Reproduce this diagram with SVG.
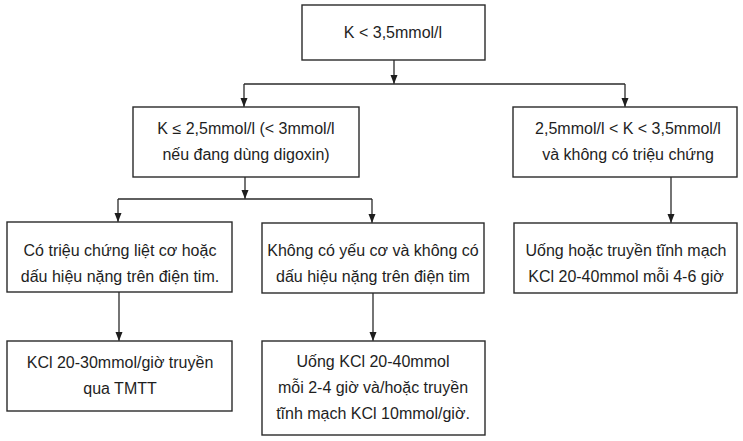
<svg xmlns="http://www.w3.org/2000/svg" width="743" height="441" viewBox="0 0 743 441">
<defs>
<marker id="ah" markerUnits="userSpaceOnUse" markerWidth="8" markerHeight="10" refX="9" refY="3.5" orient="auto">
<path d="M0,0 L9,3.5 L0,7 z" fill="#1e1e1e"/>
</marker>
<style>
.box{fill:#ffffff;stroke:#2a2a2a;stroke-width:1.4}
.t{font-family:"Liberation Sans",Arial,sans-serif;font-size:16px;fill:#1e1e1e;text-anchor:middle}
.c{fill:none;stroke:#2a2a2a;stroke-width:1.3}
</style>
</defs>
<rect width="743" height="441" fill="#ffffff"/>
<g id="connectors">
<path class="c" d="M394 60 V84" marker-end="url(#ah)"/>
<path class="c" d="M244 84 H625"/>
<path class="c" d="M244 84 V107" marker-end="url(#ah)"/>
<path class="c" d="M625 84 V107" marker-end="url(#ah)"/>
<path class="c" d="M245 177 V199" marker-end="url(#ah)"/>
<path class="c" d="M118 199 H372"/>
<path class="c" d="M118 199 V222" marker-end="url(#ah)"/>
<path class="c" d="M372 199 V223" marker-end="url(#ah)"/>
<path class="c" d="M671 177 V223" marker-end="url(#ah)"/>
<path class="c" d="M119 292 V341" marker-end="url(#ah)"/>
<path class="c" d="M373 293 V341" marker-end="url(#ah)"/>
</g>
<g id="n1">
<rect class="box" x="302" y="5" width="183" height="55"/>
<text class="t" x="393" y="38">K &lt; 3,5mmol/l</text>
</g>
<g id="n2">
<rect class="box" x="133" y="107" width="226" height="70"/>
<text class="t" x="246" y="134">K ≤ 2,5mmol/l (&lt; 3mmol/l</text>
<text class="t" x="246" y="160">nếu đang dùng digoxin)</text>
</g>
<g id="n3">
<rect class="box" x="513" y="107" width="224" height="70"/>
<text class="t" x="628" y="134">2,5mmol/l &lt; K &lt; 3,5mmol/l</text>
<text class="t" x="628" y="160">và không có triệu chứng</text>
</g>
<g id="n4">
<rect class="box" x="7" y="222" width="225" height="70"/>
<text class="t" x="120" y="256">Có triệu chứng liệt cơ hoặc</text>
<text class="t" x="120" y="282">dấu hiệu nặng trên điện tim.</text>
</g>
<g id="n5">
<rect class="box" x="262" y="223" width="222" height="70"/>
<text class="t" x="373" y="256">Không có yếu cơ và không có</text>
<text class="t" x="373" y="282">dấu hiệu nặng trên điện tim</text>
</g>
<g id="n6">
<rect class="box" x="514" y="223" width="223" height="70"/>
<text class="t" x="626" y="256">Uống hoặc truyền tĩnh mạch</text>
<text class="t" x="626" y="282">KCl 20-40mmol mỗi 4-6 giờ</text>
</g>
<g id="n7">
<rect class="box" x="7" y="341" width="225" height="70"/>
<text class="t" x="120" y="368">KCl 20-30mmol/giờ truyền</text>
<text class="t" x="120" y="394">qua TMTT</text>
</g>
<g id="n8">
<rect class="box" x="262" y="341" width="223" height="94"/>
<text class="t" x="373" y="367">Uống KCl 20-40mmol</text>
<text class="t" x="373" y="393">mỗi 2-4 giờ và/hoặc truyền</text>
<text class="t" x="373" y="419">tĩnh mạch KCl 10mmol/giờ.</text>
</g>
</svg>
